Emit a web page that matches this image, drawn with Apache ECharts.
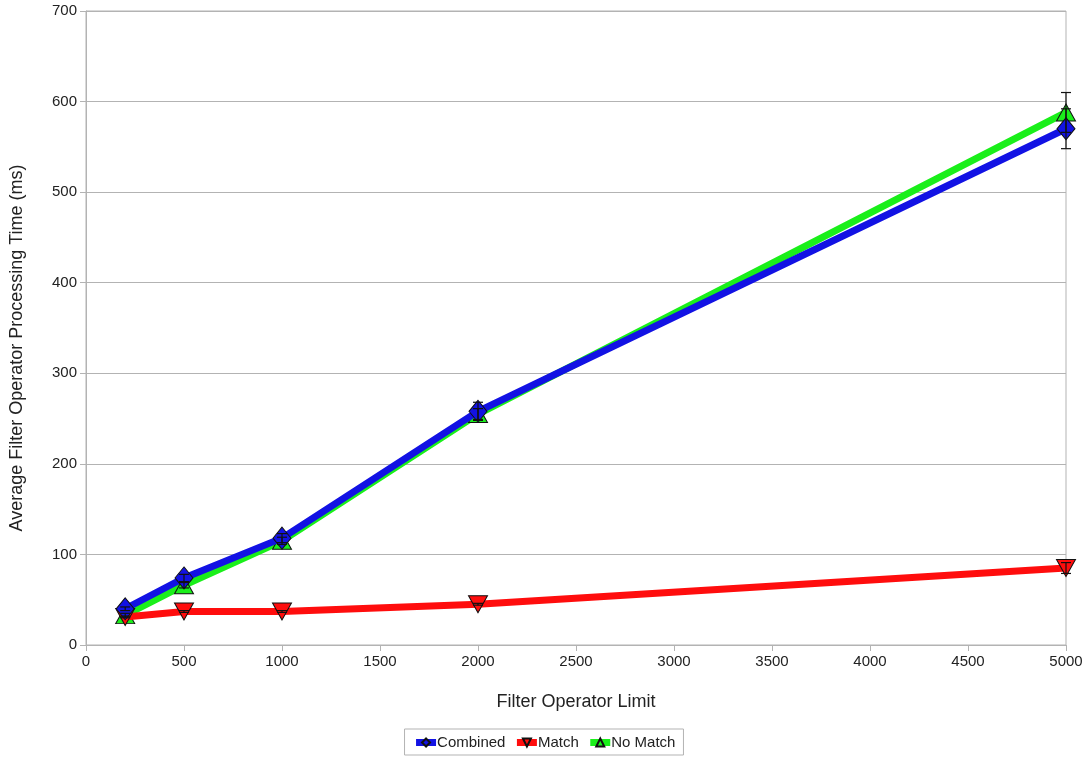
<!DOCTYPE html>
<html>
<head>
<meta charset="utf-8">
<script src="https://cdn.jsdelivr.net/npm/echarts@6/dist/echarts.min.js"></script>
<style>
html, body { margin: 0; padding: 0; background: #fff; }
#chart { width: 1088px; height: 757px; }
</style>
</head>
<body>
<div id="chart"></div>
<script>
// Filter operator limits on the x axis
const limits = [200, 500, 1000, 2000, 5000];

// Average processing time (ms) per series
const combined = [40, 74, 118, 258, 570];
const match = [31, 37, 37, 45, 85];
const noMatch = [33, 66, 115, 255, 588];

// Error half-widths (ms)
const combinedErr = [2, 4, 5, 10, 22];
const matchErr = [1, 1, 1, 1, 6];
const noMatchErr = [2, 3, 4, 6, 22];

const xTicks = [0, 500, 1000, 1500, 2000, 2500, 3000, 3500, 4000, 4500, 5000];
const yTicks = [0, 100, 200, 300, 400, 500, 600, 700];

const BLUE = '#1212e4';
const RED = '#ff0d0d';
const GREEN = '#1aef1a';

function pairs(vals) {
  return limits.map((x, i) => [x, vals[i]]);
}
function errData(vals, errs) {
  return limits.map((x, i) => [x, vals[i] - errs[i], vals[i] + errs[i]]);
}
function errSeries(name, vals, errs, z) {
  return {
    type: 'custom',
    name: name + ' err',
    z: z,
    silent: true,
    data: errData(vals, errs),
    renderItem: function (params, api) {
      const lo = api.coord([api.value(0), api.value(1)]);
      const hi = api.coord([api.value(0), api.value(2)]);
      const w = 5;
      const style = { stroke: '#111', lineWidth: 1.2 };
      return {
        type: 'group',
        children: [
          { type: 'line', shape: { x1: lo[0], y1: lo[1], x2: hi[0], y2: hi[1] }, style: style },
          { type: 'line', shape: { x1: lo[0] - w, y1: lo[1], x2: lo[0] + w, y2: lo[1] }, style: style },
          { type: 'line', shape: { x1: hi[0] - w, y1: hi[1], x2: hi[0] + w, y2: hi[1] }, style: style }
        ]
      };
    }
  };
}

const chart = echarts.init(document.getElementById('chart'), null, { renderer: 'canvas' });
const textColor = '#222';
const font = 'Liberation Sans, Arial, sans-serif';

chart.setOption({
  animation: false,
  backgroundColor: '#fff',
  grid: {
    left: 86, right: 22, top: 11, bottom: 112,
    show: true, borderColor: '#b3b3b3', borderWidth: 1
  },
  legend: {
    bottom: 2,
    left: 'center',
    data: ['Combined', 'Match', 'No Match'],
    itemWidth: 20,
    itemHeight: 10,
    itemGap: 8,
    padding: [6, 8, 5, 8],
    borderColor: '#b3b3b3',
    borderWidth: 1,
    lineStyle: { width: 7 },
    textStyle: { fontFamily: font, fontSize: 15, color: textColor, padding: [0, 0, 0, -4] }
  },
  xAxis: {
    type: 'value',
    min: 0, max: 5000, interval: 500,
    name: 'Filter Operator Limit',
    nameLocation: 'middle',
    nameGap: 48,
    nameTextStyle: { fontFamily: font, fontSize: 18, color: textColor },
    axisLine: { lineStyle: { color: '#b3b3b3' } },
    axisTick: { show: true, length: 6, lineStyle: { color: '#b3b3b3' } },
    axisLabel: { fontFamily: font, fontSize: 15, color: textColor, margin: 9,
      formatter: v => xTicks.includes(v) ? String(v) : '' },
    splitLine: { show: false }
  },
  yAxis: {
    type: 'value',
    min: 0, max: 700, interval: 100,
    name: 'Average Filter Operator Processing Time (ms)',
    nameLocation: 'middle',
    nameGap: 60,
    nameTextStyle: { fontFamily: font, fontSize: 18, color: textColor, padding: [0, 40, 0, 0] },
    axisLine: { show: true, lineStyle: { color: '#b3b3b3' } },
    axisTick: { show: true, length: 6, lineStyle: { color: '#b3b3b3' } },
    axisLabel: { fontFamily: font, fontSize: 15, color: textColor, margin: 9,
      formatter: v => yTicks.includes(v) ? String(v) : '' },
    splitLine: { show: true, lineStyle: { color: '#b3b3b3', width: 1 } }
  },
  series: [
    {
      name: 'Combined', type: 'line', z: 6,
      data: pairs(combined),
      lineStyle: { color: BLUE, width: 7 },
      itemStyle: { color: BLUE, borderColor: '#111', borderWidth: 1 },
      symbol: 'diamond', symbolSize: [18, 22]
    },
    {
      name: 'Match', type: 'line', z: 5,
      data: pairs(match),
      lineStyle: { color: RED, width: 7 },
      itemStyle: { color: RED, borderColor: '#111', borderWidth: 1 },
      symbol: 'triangle', symbolRotate: 180, symbolSize: [19, 17]
    },
    {
      name: 'No Match', type: 'line', z: 4,
      data: pairs(noMatch),
      lineStyle: { color: GREEN, width: 7 },
      itemStyle: { color: GREEN, borderColor: '#111', borderWidth: 1 },
      symbol: 'triangle', symbolSize: [19, 17]
    },
    errSeries('Combined', combined, combinedErr, 7),
    errSeries('Match', match, matchErr, 7),
    errSeries('No Match', noMatch, noMatchErr, 7)
  ]
});
</script>
</body>
</html>
